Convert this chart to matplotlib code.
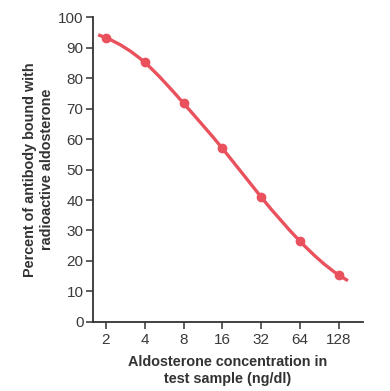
import numpy as np
import matplotlib.pyplot as plt
from matplotlib.path import Path
from matplotlib.patches import PathPatch

plt.rcParams['font.family'] = ['Liberation Sans', 'DejaVu Sans']

# ---------------------------- Data -----------------------------------
conc = [2, 4, 8, 16, 32, 64, 128]
bound = [93.3, 85.2, 71.8, 57.0, 41.0, 26.5, 15.4]
# the drawn curve runs a little past the first and last measured points
curve_conc = [1.74, 2, 4, 8, 16, 32, 64, 128, 151]
curve_bound = [94.3, 93.3, 85.2, 71.8, 57.0, 41.0, 26.5, 15.4, 13.5]

yticks = [0, 10, 20, 30, 40, 50, 60, 70, 80, 90, 100]
RED = "#e9525d"
DARK = "#333333"


def spline_path(xs, ys):
    """Cubic spline through the points (end slopes from the end segments),
    written as bezier segments."""
    xs = np.asarray(xs, float)
    ys = np.asarray(ys, float)
    n = len(xs)
    h = np.diff(xs)
    d = np.diff(ys) / h
    A = np.zeros((n, n))
    b = np.zeros(n)
    A[0, 0], b[0] = 1.0, d[0]
    A[-1, -1], b[-1] = 1.0, d[-1]
    for i in range(1, n - 1):
        A[i, i - 1] = h[i]
        A[i, i] = 2.0 * (h[i - 1] + h[i])
        A[i, i + 1] = h[i - 1]
        b[i] = 3.0 * (h[i] * d[i - 1] + h[i - 1] * d[i])
    m = np.linalg.solve(A, b)
    verts = [(xs[0], ys[0])]
    codes = [Path.MOVETO]
    for i in range(n - 1):
        t = h[i] / 3.0
        verts += [(xs[i] + t, ys[i] + m[i] * t),
                  (xs[i + 1] - t, ys[i + 1] - m[i + 1] * t),
                  (xs[i + 1], ys[i + 1])]
        codes += [Path.CURVE4] * 3
    return Path(verts, codes)


fig = plt.figure(figsize=(3.9, 3.91), dpi=100)
ax = fig.add_axes([0.239, 0.177, 0.691, 0.7785])

# doubling dilutions -> evenly spaced on a log2 axis
lx = np.log2(conc)
curve_lx = np.log2(curve_conc)

ax.set_xlim(0.672, 7.619)
ax.set_ylim(0, 100)

ax.add_patch(PathPatch(spline_path(curve_lx, curve_bound), facecolor="none",
                       edgecolor=RED, lw=2.4, capstyle="butt", zorder=3))
ax.plot(lx, bound, "o", color=RED, ms=6, zorder=4)

ax.set_xticks(lx)
ax.set_xticklabels([str(c) for c in conc])
ax.set_yticks(yticks)

for s in ["top", "right"]:
    ax.spines[s].set_visible(False)
for s in ["left", "bottom"]:
    ax.spines[s].set_color(DARK)
    ax.spines[s].set_linewidth(1.3)

ax.tick_params(axis="both", direction="out", length=5, width=1.1,
               color=DARK, labelcolor="#3a3a3a", labelsize=11)
ax.tick_params(axis="y", pad=2)
ax.tick_params(axis="x", pad=3)

ax.set_xlabel("Aldosterone concentration in\ntest sample (ng/dl)",
              fontsize=10.4, fontweight="bold", color=DARK, labelpad=6,
              linespacing=1.25)
ax.set_ylabel("Percent of antibody bound with\nradioactive aldosterone",
              fontsize=10.4, fontweight="bold", color=DARK, labelpad=3,
              linespacing=1.25)

fig.savefig("out.png", dpi=100)
